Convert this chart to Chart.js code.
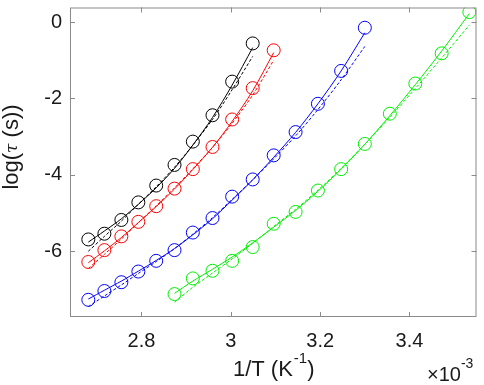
<!DOCTYPE html>
<html>
<head>
<meta charset="utf-8">
<script src="https://cdn.jsdelivr.net/npm/chart.js@4/dist/chart.umd.min.js"></script>
<style>
  html, body { margin: 0; padding: 0; background: #fff; }
  #wrap { width: 484px; height: 385px; }
</style>
</head>
<body>
<div id="wrap"><canvas id="grafico"></canvas></div>
<script>
// 1/T (x10^-3 K^-1) for each temperature set
const xBlack = [2.681, 2.717, 2.755, 2.793, 2.833, 2.874, 2.915, 2.959, 3.003, 3.049];
const xRed   = [2.681, 2.717, 2.755, 2.793, 2.833, 2.874, 2.915, 2.959, 3.003, 3.049, 3.096];
const xBlue  = [2.681, 2.717, 2.755, 2.793, 2.833, 2.874, 2.915, 2.959, 3.003, 3.049, 3.096, 3.145, 3.195, 3.247, 3.300];
const xGreen = [2.874, 2.915, 2.959, 3.003, 3.049, 3.096, 3.145, 3.195, 3.247, 3.300, 3.356, 3.413, 3.472, 3.534];

// measured log(tau)
const yBlack = [-5.69, -5.54, -5.18, -4.72, -4.28, -3.74, -3.13, -2.44, -1.56, -0.56];
const yRed   = [-6.28, -5.97, -5.61, -5.23, -4.82, -4.36, -3.85, -3.27, -2.55, -1.73, -0.74];
const yBlue  = [-7.27, -7.04, -6.81, -6.53, -6.25, -5.97, -5.51, -5.13, -4.57, -4.12, -3.49, -2.88, -2.14, -1.28, -0.15];
const yGreen = [-7.12, -6.71, -6.51, -6.25, -5.89, -5.28, -4.97, -4.41, -3.85, -3.19, -2.40, -1.61, -0.82, 0.26];

// fit curves (solid)
const fitBlack = [-5.76, -5.47, -5.15, -4.77, -4.34, -3.83, -3.22, -2.50, -1.65, -0.67];
const fitRed   = [-6.30, -5.99, -5.64, -5.25, -4.83, -4.37, -3.86, -3.28, -2.60, -1.80, -0.80];
const fitBlue  = [-7.25, -7.02, -6.78, -6.52, -6.24, -5.93, -5.57, -5.15, -4.66, -4.13, -3.54, -2.89, -2.14, -1.28, -0.28];
const fitGreen = [-7.10, -6.78, -6.47, -6.15, -5.78, -5.37, -4.93, -4.43, -3.85, -3.20, -2.45, -1.64, -0.76, 0.22];

// second fit (dashed)
const fit2Black = [-6.00, -5.61, -5.21, -4.77, -4.31, -3.80, -3.22, -2.55, -1.77, -0.90];
const fit2Red   = [-6.45, -6.08, -5.68, -5.25, -4.81, -4.34, -3.84, -3.28, -2.65, -1.91, -1.00];
const fit2Blue  = [-7.45, -7.17, -6.88, -6.58, -6.27, -5.93, -5.55, -5.12, -4.64, -4.13, -3.58, -2.98, -2.29, -1.51, -0.64];
const fit2Green = [-7.33, -6.94, -6.57, -6.20, -5.79, -5.35, -4.90, -4.40, -3.83, -3.20, -2.49, -1.74, -0.94, -0.08];

const xTicks = [2.8, 3.0, 3.2, 3.4];
const yTicks = [-6, -4, -2, 0];

const FONT = "'Liberation Sans', Arial, sans-serif";
const TXT = "#1a1a1a";

function pts(xs, ys) {
  return xs.map((x, i) => ({ x: x, y: ys[i] }));
}

const series = [
  { x: xBlack, y: yBlack, fit: fitBlack, fit2: fit2Black, color: "#000000" },
  { x: xRed,   y: yRed,   fit: fitRed,   fit2: fit2Red,   color: "#ff0000" },
  { x: xBlue,  y: yBlue,  fit: fitBlue,  fit2: fit2Blue,  color: "#0000ff" },
  { x: xGreen, y: yGreen, fit: fitGreen, fit2: fit2Green, color: "#00ee00" }
];

const datasets = [];
series.forEach(s => {
  datasets.push({
    data: pts(s.x, s.fit2), showLine: true, borderColor: s.color, borderWidth: 1,
    borderDash: [3, 2], pointRadius: 0, fill: false
  });
  datasets.push({
    data: pts(s.x, s.fit), showLine: true, borderColor: s.color, borderWidth: 1,
    pointRadius: 0, fill: false
  });
  datasets.push({
    data: pts(s.x, s.y), showLine: false, borderColor: s.color, borderWidth: 1,
    backgroundColor: "rgba(0,0,0,0)", pointRadius: 6.5, pointStyle: "circle"
  });
});

// box, inward ticks and axis titles
const decor = {
  id: "decor",
  afterDraw(chart) {
    const { ctx, chartArea: a, scales } = chart;
    ctx.save();
    ctx.strokeStyle = "#8a8a8a";
    ctx.lineWidth = 1;
    ctx.strokeRect(a.left + 0.5, a.top + 0.5, a.right - a.left - 1, a.bottom - a.top - 1);
    ctx.beginPath();
    xTicks.forEach(v => {
      const px = Math.round(scales.x.getPixelForValue(v)) + 0.5;
      ctx.moveTo(px, a.bottom); ctx.lineTo(px, a.bottom - 5);
      ctx.moveTo(px, a.top); ctx.lineTo(px, a.top + 5);
    });
    yTicks.forEach(v => {
      const py = Math.round(scales.y.getPixelForValue(v)) + 0.5;
      ctx.moveTo(a.left, py); ctx.lineTo(a.left + 5, py);
      ctx.moveTo(a.right, py); ctx.lineTo(a.right - 5, py);
    });
    ctx.stroke();

    ctx.fillStyle = TXT;
    ctx.textBaseline = "middle";
    // x title: 1/T (K^-1)
    const cx = (a.left + a.right) / 2;
    const ty = 370;
    const p1 = "1/T (K", p3 = ")";
    ctx.font = "15px " + FONT;
    const w2 = ctx.measureText("-1").width;
    ctx.font = "22px " + FONT;
    const w1 = ctx.measureText(p1).width, w3 = ctx.measureText(p3).width;
    let sx = cx - (w1 + w2 + w3) / 2;
    ctx.textAlign = "left";
    ctx.fillText(p1, sx, ty);
    ctx.font = "15px " + FONT;
    ctx.fillText("-1", sx + w1 + 1, ty - 11);
    ctx.font = "22px " + FONT;
    ctx.fillText(p3, sx + w1 + w2 + 1, ty);

    // exponent
    ctx.font = "20px " + FONT;
    ctx.fillText("\u00d710", 427, 375);
    const we = ctx.measureText("\u00d710").width;
    ctx.font = "14px " + FONT;
    ctx.fillText("-3", 427 + we, 364);

    // y title: log(tau (s))
    ctx.translate(12, 147);
    ctx.rotate(-Math.PI / 2);
    ctx.font = "22px " + FONT;
    const a1 = "log(", a3 = " (s))";
    const wa1 = ctx.measureText(a1).width, wa3 = ctx.measureText(a3).width;
    ctx.font = "italic 17px 'DejaVu Serif', serif";
    const wa2 = ctx.measureText("\u03c4").width;
    let sy = -(wa1 + wa2 + wa3) / 2;
    ctx.font = "22px " + FONT;
    ctx.fillText(a1, sy, 0);
    ctx.font = "italic 17px 'DejaVu Serif', serif";
    ctx.fillText("\u03c4", sy + wa1, 1);
    ctx.font = "22px " + FONT;
    ctx.fillText(a3, sy + wa1 + wa2, 0);
    ctx.restore();
  }
};

const ctx = document.getElementById("grafico").getContext("2d");
new Chart(ctx, {
  type: "scatter",
  data: { datasets: datasets },
  options: {
    responsive: true,
    maintainAspectRatio: false,
    animation: false,
    events: [],
    layout: { padding: { left: 0, right: 1, top: 2, bottom: 0 } },
    plugins: { legend: { display: false }, tooltip: { enabled: false } },
    elements: { line: { tension: 0.3 } },
    scales: {
      x: {
        type: "linear", min: 2.64, max: 3.55,
        afterBuildTicks: s => { s.ticks = xTicks.map(v => ({ value: v })); },
        afterFit: s => { s.height = 68; s.paddingLeft = 0; s.paddingRight = 0; },
        grid: { display: false, drawTicks: false },
        border: { display: false },
        ticks: {
          padding: 12, color: TXT, font: { family: FONT, size: 20 },
          callback: v => String(Math.round(v * 10) / 10)
        }
      },
      y: {
        type: "linear", min: -7.72, max: 0.38,
        afterBuildTicks: s => { s.ticks = yTicks.map(v => ({ value: v })); },
        afterFit: s => { s.width = 70; s.paddingTop = 0; s.paddingBottom = 0; },
        grid: { display: false, drawTicks: false },
        border: { display: false },
        ticks: {
          padding: 8, color: TXT, font: { family: FONT, size: 20 },
          callback: v => String(v)
        }
      }
    }
  },
  plugins: [decor]
});
</script>
</body>
</html>
